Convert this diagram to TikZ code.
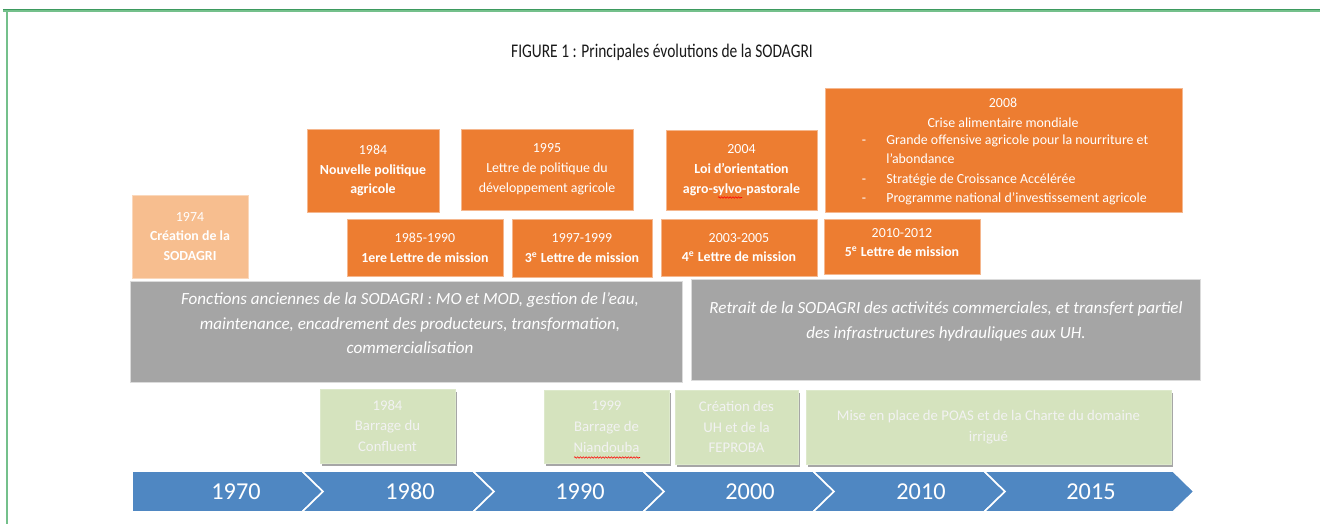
\documentclass[tikz,border=0pt]{standalone}
\usepackage{fontspec}
\setmainfont{Carlito}
\newfontfamily\titlefont[FakeStretch=0.8]{Carlito}
\usetikzlibrary{fit,shadows,decorations.pathmorphing}
\definecolor{orng}{HTML}{ED7D31}
\definecolor{lorng}{HTML}{F7BE8F}
\definecolor{gry}{HTML}{A5A5A5}
\definecolor{lgrn}{HTML}{D5E3BE}
\definecolor{blu}{HTML}{4F87C2}
\definecolor{bordg}{HTML}{3D9A5E}
\definecolor{bordl}{HTML}{74C08B}
\begin{document}
\begin{tikzpicture}[x=0.02cm,y=-0.02cm,
  bx/.style={inner sep=0pt, outer sep=0pt},
  obox/.style={bx, fill=orng, draw=orng!55!white, line width=0.4pt},
  lobox/.style={bx, fill=lorng, draw=lorng!60!white, line width=0.4pt},
  gbox/.style={bx, fill=gry, draw=gry!40!white, line width=0.4pt},
  vbox/.style={bx, fill=lgrn, draw=lgrn!80!white, line width=0.3pt, drop shadow={shadow xshift=0.04cm, shadow yshift=-0.05cm, opacity=0.35, fill=black}},
  otxt/.style={inner sep=0pt, text=white, align=center, font=\fontsize{7.9pt}{11.3pt}\selectfont},
  gtxt/.style={inner sep=0pt, text=white, align=center, font=\fontsize{9.7pt}{13.9pt}\selectfont\itshape},
  vtxt/.style={inner sep=0pt, text=white!95!black, align=center, font=\fontsize{8.4pt}{11.9pt}\selectfont},
  ytxt/.style={inner sep=0pt, text=white, font=\fontsize{13.8pt}{16pt}\selectfont},
  seg/.style={fill=blu, draw=white, line width=0.9pt, line join=miter},
  squig/.style={red, line width=0.3pt, decorate, decoration={snake, amplitude=0.45pt, segment length=1.6pt}},
]
\useasboundingbox (0,0) rectangle (1320,524);
\fill[white] (0,0) rectangle (1320,524);
% frame
\draw[bordl, line width=1.2pt] (7,10) -- (7,524);
\draw[bordl, line width=0.8pt] (3,11) -- (1320,11);
\draw[bordg, line width=0.8pt] (3,9.3) -- (1320,9.3);
% title
\node[inner sep=0pt, text=black!90, font=\titlefont\fontsize{11pt}{13pt}\selectfont] (title) at (662,52) {FIGURE 1 : Principales évolutions de la SODAGRI};
% orange boxes, top row
\node[lobox, fit={(132,195)(248,278)}] (b74) {};
\node[otxt] (b74t) at (b74.center) {1974\\\textbf{Création de la}\\\textbf{SODAGRI}};
\node[obox, fit={(307,129)(439,212)}] (b84) {};
\node[otxt] (b84t) at (b84.center) {1984\\\textbf{Nouvelle politique}\\\textbf{agricole}};
\node[obox, fit={(461,129)(633,210)}] (b95) {};
\node[otxt] (b95t) at (b95.center) {1995\\Lettre de politique du\\développement agricole};
\node[obox, fit={(666,130)(817,210)}] (b04) {};
\node[otxt] (b04t) at (b04.center) {2004\\\textbf{Loi d’orientation}\\\textbf{agro-sylvo-pastorale}};
\node[obox, fit={(825,88)(1182,212)}] (b08) {};
\node[otxt] (b08a) at (1003,112.5) {2008\\Crise alimentaire mondiale};
\node[otxt, anchor=base] (b08d1) at (864,144.5) {-};
\node[otxt, anchor=base] (b08d2) at (864,183.5) {-};
\node[otxt, anchor=base] (b08d3) at (864,202.5) {-};
\node[otxt, anchor=base west] (b08b) at (886,144.5) {Grande offensive agricole pour la nourriture et};
\node[otxt, anchor=base west] (b08b2) at (886,163.5) {l’abondance};
\node[otxt, anchor=base west] (b08c) at (886,183.5) {Stratégie de Croissance Accélérée};
\node[otxt, anchor=base west] (b08e) at (886,202.5) {Programme national d'investissement agricole};
% lettres de mission
\node[obox, fit={(347,219)(503,276)}] (m1) {};
\node[otxt] (m1t) at (m1.center) {1985-1990\\\textbf{1ere Lettre de mission}};
\node[obox, fit={(512,219)(652,277)}] (m3) {};
\node[otxt] (m3t) at (m3.center) {1997-1999\\\textbf{3\textsuperscript{e} Lettre de mission}};
\node[obox, fit={(661,219)(817,276)}] (m4) {};
\node[otxt] (m4t) at (m4.center) {2003-2005\\\textbf{4\textsuperscript{e} Lettre de mission}};
\node[obox, fit={(824,219)(980,274)}] (m5) {};
\node[otxt] (m5t) at ([yshift=0.08cm]m5.center) {2010-2012\\\textbf{5\textsuperscript{e} Lettre de mission}};
% grey boxes
\node[gbox, fit={(130,281)(682,382)}] (g1) {};
\node[gtxt] (g1t) at (410,323.5) {Fonctions anciennes de la SODAGRI : MO et MOD, gestion de l’eau,\\maintenance, encadrement des producteurs, transformation,\\commercialisation};
\node[gbox, fit={(691,279)(1200,380)}] (g2) {};
\node[gtxt] (g2t) at (946,321.5) {Retrait de la SODAGRI des activités commerciales, et transfert partiel\\des infrastructures hydrauliques aux UH.};
% green boxes
\node[vbox, fit={(320,389)(455,463)}] (v1) {};
\node[vtxt] (v1t) at (v1.center) {1984\\Barrage du\\Confluent};
\node[vbox, fit={(544,390)(669,463)}] (v2) {};
\node[vtxt] (v2t) at (v2.center) {1999\\Barrage de\\Niandouba};
\node[vbox, fit={(675,390)(798,464)}] (v3) {};
\node[vtxt] (v3t) at (v3.center) {Création des\\UH et de la\\FEPROBA};
\node[vbox, fit={(806,390)(1171,464)}] (v4) {};
\node[vtxt] (v4t) at (v4.center) {Mise en place de POAS et de la Charte du domaine\\irrigué};
% spell-check marks
\draw[squig] (718,197.5) -- (742,197.5);
\draw[squig] (574,457.5) -- (640,457.5);
% timeline
\draw[seg] (132,471) -- (302,471) -- (323,491.5) -- (302,512) -- (132,512) -- cycle;
\draw[seg] (302,471) -- (473,471) -- (494,491.5) -- (473,512) -- (302,512) -- (323,491.5) -- cycle;
\draw[seg] (473,471) -- (643,471) -- (664,491.5) -- (643,512) -- (473,512) -- (494,491.5) -- cycle;
\draw[seg] (643,471) -- (813,471) -- (834,491.5) -- (813,512) -- (643,512) -- (664,491.5) -- cycle;
\draw[seg] (813,471) -- (984,471) -- (1005,491.5) -- (984,512) -- (813,512) -- (834,491.5) -- cycle;
\draw[seg] (984,471) -- (1173,471) -- (1194,491.5) -- (1173,512) -- (984,512) -- (1005,491.5) -- cycle;
\node[ytxt] (y70) at (236,491.5) {1970};
\node[ytxt] (y80) at (410,491.5) {1980};
\node[ytxt] (y90) at (580,491.5) {1990};
\node[ytxt] (y00) at (750,491.5) {2000};
\node[ytxt] (y10) at (921,491.5) {2010};
\node[ytxt] (y15) at (1091,491.5) {2015};
\end{tikzpicture}
\end{document}
